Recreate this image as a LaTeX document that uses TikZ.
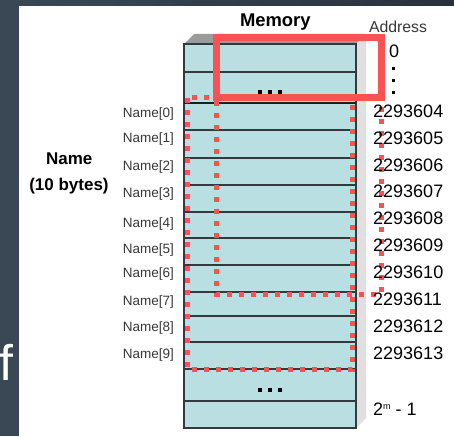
\documentclass[tikz,border=0pt]{standalone}
\usepackage{fontspec}
\setmainfont{Liberation Sans}
\definecolor{bgA}{RGB}{58,72,86}
\definecolor{bgB}{RGB}{40,50,61}
\definecolor{redline}{RGB}{250,82,82}
\definecolor{cellc}{RGB}{186,223,226}
\definecolor{linec}{RGB}{50,58,62}
\definecolor{darkc}{RGB}{30,30,30}
\definecolor{topface}{RGB}{155,155,155}
\definecolor{sideface}{RGB}{224,224,224}
\definecolor{labelc}{RGB}{55,55,55}
\begin{document}
\begin{tikzpicture}[x=1pt,y=-1pt,
  redsolid/.style={draw=redline, line width=6.5pt},
  reddot/.style={draw=redline, line width=5pt, dash pattern=on 5pt off 7pt},
  rowline/.style={draw=linec, line width=1.3pt},
  lbl/.style={font=\fontsize{13.5}{14}\selectfont, text=labelc, inner sep=0pt, anchor=east},
  addr/.style={font=\fontsize{18}{18}\selectfont, inner sep=0pt, anchor=base west},
  dotsq/.style={fill=black, minimum size=3.3pt, inner sep=0pt}
]
\useasboundingbox (0,0) rectangle (454,436);
\fill[white] (0,0) rectangle (454,436);
\shade[left color=bgA, right color=bgB] (0,0) rectangle (454,6);
\fill[bgA] (0,0) rectangle (19,436);
\begin{scope}
  \clip (0,0) rectangle (19,436);
  \node[anchor=base west, inner sep=0pt, text=white, font=\fontsize{50}{50}\selectfont] (fchar) at (-1,380) {f};
\end{scope}
% memory block (3D)
\fill[topface] (184,44) -- (194,34) -- (366,34) -- (356,44) -- cycle;
\fill[sideface] (356,44) -- (366,34) -- (366,418) -- (356,428) -- cycle;
\path[fill=cellc, draw=linec, line width=1.4pt] (184,44) rectangle (356,428);
\foreach \yy in {72,130,158,185,212,238,265,292,316,342,369,401}
  \draw[rowline] (184,\yy) -- (356,\yy);
\draw[line width=2.3pt, draw=darkc] (184,103) -- (356,103);
\foreach \xx in {260,270,280} {
  \node[dotsq] at (\xx,92) {};
  \node[dotsq] at (\xx,390) {};
}
% address ellipsis
\foreach \yy in {68,80,92.7}
  \node[dotsq, minimum size=3pt] at (393,\yy) {};
% red highlight shapes
\draw[reddot] (187.5,97.5) rectangle (352.5,369);
\draw[redsolid] (216.7,37.3) rectangle (381.7,97.5);
\draw[reddot] (216.7,100.75) -- (216.7,294) -- (381.7,294) -- (381.7,100.75);
% titles
\node[font=\bfseries\fontsize{18.4}{19}\selectfont, anchor=base, inner sep=0pt] (memory) at (275.3,26.7) {Memory};
\node[font=\fontsize{15.8}{16}\selectfont, text=labelc, anchor=base, inner sep=0pt] (address) at (398,32.3) {Address};
\node[font=\bfseries\fontsize{17}{17}\selectfont, anchor=base, inner sep=0pt] (namet) at (69.3,164) {Name};
\node[font=\bfseries\fontsize{17}{17}\selectfont, anchor=base, inner sep=0pt] (bytes) at (69,190) {(10 bytes)};
% element labels
\foreach \i/\yy in {0/114.5,1/139.5,2/167,3/194,4/224,5/250.5,6/274,7/301.7,8/328,9/355}
  \node[lbl] (n\i) at (174,\yy) {Name[\i]};
% addresses
\node[addr] (a0) at (389,57) {0};
\foreach \i/\yy in {04/117.3,05/144,06/171,07/197.3,08/224,09/251.7,10/278.3,11/305,12/332.3,13/359.3}
  \node[addr] (ad\i) at (373,\yy) {22936\i};
\node[addr] (alast) at (373,415) {2\raisebox{5.5pt}{\fontsize{9}{9}\selectfont m} - 1};
\end{tikzpicture}
\end{document}
